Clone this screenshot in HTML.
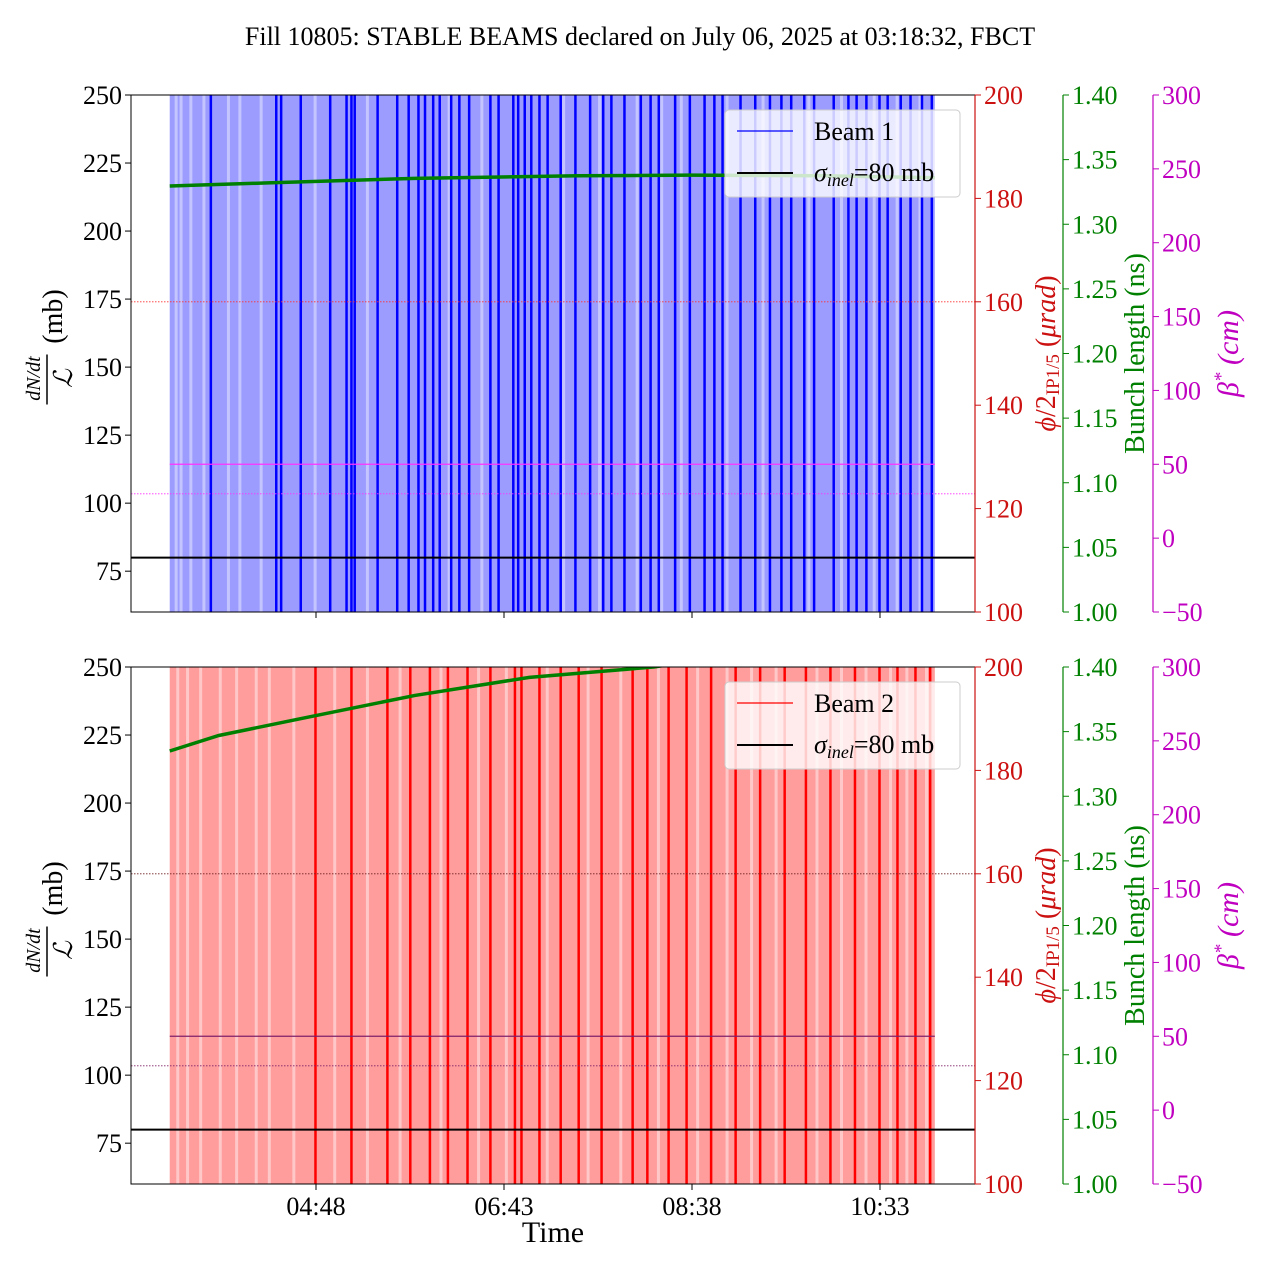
<!DOCTYPE html>
<html><head><meta charset="utf-8">
<style>
html,body{margin:0;padding:0;background:#fff;}
svg text{font-family:"Liberation Serif",serif;}
</style></head>
<body>
<svg id="chart" width="1280" height="1280" xmlns="http://www.w3.org/2000/svg">
<text x="640" y="45" font-size="26" text-anchor="middle">Fill 10805: STABLE BEAMS declared on July 06, 2025 at 03:18:32, FBCT</text>
</svg>
<script>
// ---- data (time in minutes since midnight) ----
const startT = 198.53, endT = 666.6;
const xTickLabels = ["04:48","06:43","08:38","10:33"];
const xTickTimes = [288, 403, 518, 633];
const leftTicks = [75,100,125,150,175,200,225,250];
const redTicks = [100,120,140,160,180,200];
const greenTicks = [1.00,1.05,1.10,1.15,1.20,1.25,1.30,1.35,1.40];
const magTicks = [-50,0,50,100,150,200,250,300];
// dark bunch lines (minutes after start)
const beam1Dark = [25,65,68,80,98,108,111,113,127,139,146,152,156,161,165,172,177,183,196,201,210,213,217,221,226,231,239,248,257,265,270,278,288,294,299,309,318,327,333,338,349,358,367,374,380,388,394,406,415,420,426,434,439,447,453,460,466];
const beam2Dark = [89,111,133,147,159,170,182,196,211,215,226,239,250,264,283,292,305,316,331,346,361,376,389,404,419,434,445,456,465];
// pale lines (minutes after start)
const beam1Pale = [3,6,12,20,35,42,55,88,120,170,190,240,262,285,300,312,340,362,390,410,430,444,458];
const beam2Pale = [4,10,18,30,40,52,60,75,100,120,140,165,188,205,230,255,275,298,322,340,355,370,395,410,425,440,450,462];
// bunch length (ns)
const blTimes = [0,60,150,250,318,400,468];
const blBeam1 = [1.3296,1.332,1.3355,1.3375,1.338,1.3375,1.336];
const blTimes2 = [0,30,80,150,220,296,350,468];
const blBeam2 = [1.335,1.347,1.36,1.378,1.392,1.40,1.41,1.43];
const crossingAngle = 160, betaStar = 50, betaStar2 = 30, sigmaInel = 80;

const NS="http://www.w3.org/2000/svg";
const svg=document.getElementById('chart');
function mk(tag,attrs,parent){const e=document.createElementNS(NS,tag);for(const k in attrs)e.setAttribute(k,attrs[k]);(parent||svg).appendChild(e);return e;}
const X0=131,X1=975;
const xT=t=>316+(t-288)*1.6348;
const xM=m=>xT(startT+m);

function panel(top,beam){
  const bot=top+517,H=517;
  const yL=v=>top+(250-v)/190*H;
  const yR=v=>top+(200-v)/100*H;
  const yG=v=>top+(1.4-v)/0.4*H;
  const yMg=v=>top+(300-v)/350*H;
  const g=mk('g',{});
  
  
  const cid='clip'+beam;
  const cp=mk('clipPath',{id:cid},g);mk('rect',{x:X0,y:top,width:X1-X0,height:H},cp);
  const pg=mk('g',{'clip-path':'url(#'+cid+')'},g);
  const base=beam===1?'#9c9cff':'#ff9c9c', pale=beam===1?'#c4c4ff':'#ffc8c8', dark=beam===1?'#0000ff':'#ff0000';
  const bg=mk('rect',{x:xM(0),y:top,width:xM(468)-xM(0),height:H,fill:base},pg);
  
  
  (beam===1?beam1Pale:beam2Pale).forEach(m=>{
    const r=mk('rect',{x:xM(m),y:top,width:3,height:H,fill:pale},pg);
    
    
  });
  (beam===1?beam1Dark:beam2Dark).forEach(m=>{
    const r=mk('rect',{x:xM(m)-1,y:top,width:2.5,height:H,fill:dark},pg);
    
    
  });
  const c1=beam===1?'#ff3030':'#702020', c2=beam===1?'#ff30ff':'#80206a';
  let l=mk('line',{x1:X0,x2:X1,y1:yR(crossingAngle),y2:yR(crossingAngle),stroke:c1,'stroke-width':0.8,'stroke-dasharray':'1.5,1.5'},pg);
  
  l=mk('line',{x1:X0,x2:X1,y1:yMg(betaStar2),y2:yMg(betaStar2),stroke:c2,'stroke-width':0.8,'stroke-dasharray':'1.5,1.5'},pg);
  
  l=mk('line',{x1:xM(0),x2:xM(468),y1:yMg(betaStar),y2:yMg(betaStar),stroke:c2,'stroke-width':1.2},pg);
  
  l=mk('line',{x1:X0,x2:X1,y1:yL(sigmaInel),y2:yL(sigmaInel),stroke:'#000','stroke-width':2},pg);
  
  const lg=mk('g',{},g);
  
  mk('rect',{x:725,y:top+15,width:235,height:87,rx:4,fill:'rgba(255,255,255,0.8)',stroke:'#ccc'},lg);
  mk('line',{x1:737,x2:793,y1:top+36,y2:top+36,stroke:dark,'stroke-width':1.2},lg);
  let t=mk('text',{x:814,y:top+45,'font-size':26},lg);t.textContent='Beam '+beam;
  mk('line',{x1:737,x2:793,y1:top+78,y2:top+78,stroke:'#000','stroke-width':2},lg);
  t=mk('text',{x:814,y:top+86,'font-size':26},lg);
  t.innerHTML='<tspan font-style="italic">σ</tspan><tspan font-style="italic" font-size="18" dy="5">inel</tspan><tspan dy="-5">=80 mb</tspan>';
  const ts=beam===1?blTimes:blTimes2, vs=beam===1?blBeam1:blBeam2;
  const p=mk('polyline',{points:ts.map((m,i)=>xM(m)+','+yG(vs[i])).join(' '),fill:'none',stroke:'#008000','stroke-width':3.5},pg);
  
  mk('rect',{x:X0,y:top,width:X1-X0,height:H,fill:'none',stroke:'#000','stroke-width':1},g);
  leftTicks.forEach(v=>{const y=yL(v);mk('line',{x1:X0-6,x2:X0,y1:y,y2:y,stroke:'#000'},g);
    const tt=mk('text',{x:X0-9,y:y+9,'font-size':26,'text-anchor':'end'},g);tt.textContent=v;});
  const axes=[[975,'#cc1111',redTicks,yR,v=>v],[1063,'#008000',greenTicks,yG,v=>v.toFixed(2)],[1153,'#c000c0',magTicks,yMg,v=>v<0?'−'+(-v):v]];
  axes.forEach(([ax,col,tk,f,fmt])=>{
    mk('line',{x1:ax,x2:ax,y1:top,y2:bot,stroke:col,'stroke-width':1.2},g);
    tk.forEach(v=>{const y=f(v);mk('line',{x1:ax,x2:ax+6,y1:y,y2:y,stroke:col},g);
      const tt=mk('text',{x:ax+9,y:y+9,'font-size':26,fill:col},g);tt.textContent=fmt(v);});
  });
  xTickTimes.forEach((tm,i)=>{const x=xT(tm);mk('line',{x1:x,x2:x,y1:bot,y2:bot+6,stroke:'#000'},g);
    if(beam===2){const tt=mk('text',{x:x,y:bot+31,'font-size':26,'text-anchor':'middle'},g);tt.textContent=xTickLabels[i];}});
  const cy=top+H/2;
  let yl=mk('g',{transform:'translate(60,'+(cy-5)+') rotate(-90)'},g);
  
  t=mk('text',{x:-30,y:-20,'font-size':20,'font-style':'italic','text-anchor':'middle'},yl);t.textContent='dN/dt';
  mk('line',{x1:-56,x2:-6,y1:-13,y2:-13,stroke:'#000','stroke-width':1.5},yl);
  t=mk('text',{x:-30,y:12,'font-size':26,'font-style':'italic','text-anchor':'middle'},yl);t.textContent='ℒ';
  t=mk('text',{x:32,y:2,'font-size':28,'text-anchor':'middle'},yl);t.textContent='(mb)';
  t=mk('text',{transform:'translate(1055,'+cy+') rotate(-90)','font-size':28,fill:'#cc1111','text-anchor':'middle'},g);
  t.innerHTML='<tspan font-style="italic">ϕ</tspan>/2<tspan font-size="19" dy="4">IP1/5</tspan><tspan dy="-4"> (</tspan><tspan font-style="italic">μrad</tspan>)';
  
  t=mk('text',{transform:'translate(1144,'+cy+') rotate(-90)','font-size':28,fill:'#008000','text-anchor':'middle','font-family':'DejaVu Sans, sans-serif'},g);
  t.textContent='Bunch length (ns)';
  
  t=mk('text',{transform:'translate(1238,'+cy+') rotate(-90)','font-size':30,fill:'#c000c0','text-anchor':'middle','font-style':'italic'},g);
  t.innerHTML='β<tspan font-size="19" dy="-11">*</tspan><tspan dy="11"> (cm)</tspan>';
  
}
panel(95,1);
panel(667,2);
const xl=mk('text',{x:553,y:1242,'font-size':30,'text-anchor':'middle'});
xl.textContent='Time';


</script>
</body></html>
